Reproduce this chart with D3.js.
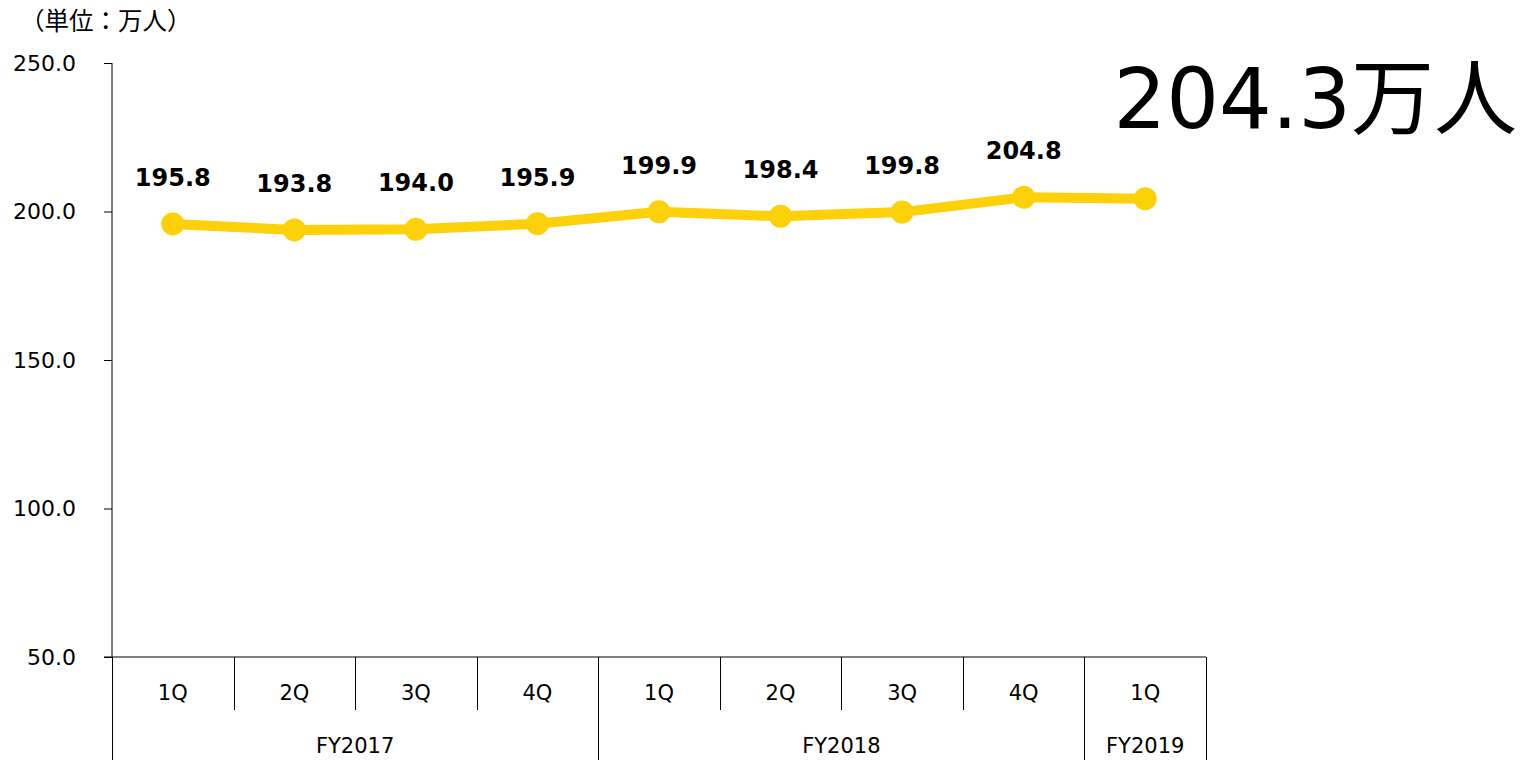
<!DOCTYPE html>
<html>
<head>
<meta charset="utf-8">
<script src="https://cdn.jsdelivr.net/npm/d3@7"></script>
<style>
  body { margin: 0; background: #fff; }
  text { font-family: "DejaVu Sans", Verdana, "Noto Sans CJK JP", sans-serif; fill: #000; }
</style>
</head>
<body>
<div id="chart"></div>
<script>
// data
var quarters = ["1Q", "2Q", "3Q", "4Q", "1Q", "2Q", "3Q", "4Q", "1Q"];
var years = ["FY2017", "FY2018", "FY2019"];
var quartersPerYear = [4, 4, 1];
var values = [195.8, 193.8, 194.0, 195.9, 199.9, 198.4, 199.8, 204.8, 204.3];
var yTicks = [50, 100, 150, 200, 250];
var unitLabel = "（単位：万人）";
var headline = "204.3万人";

var W = 1529, H = 760;
var plotLeft = 112, plotRight = 1206, plotTop = 63, plotBottom = 657;
var lineColor = "#fdd10a";

var svg = d3.select("#chart").append("svg")
    .attr("width", W)
    .attr("height", H);

var idx = d3.range(values.length);
var x = d3.scaleBand().domain(idx).range([plotLeft, plotRight]);
var y = d3.scaleLinear().domain([50, 250]).range([plotBottom, plotTop]);

// y axis
var yAxis = d3.axisLeft(y)
    .tickValues(yTicks)
    .tickFormat(d3.format(".1f"))
    .tickSize(8)
    .tickPadding(28);
var gy = svg.append("g")
    .attr("transform", "translate(" + plotLeft + ",0)")
    .call(yAxis);
gy.select(".domain").attr("d", "M0," + plotTop + "V" + plotBottom).attr("stroke", "#000");
gy.selectAll(".tick line").attr("stroke", "#000");
gy.selectAll(".tick text")
    .style("font-size", "22px")
    .style("font-family", "'DejaVu Sans', Verdana, sans-serif")
    .attr("fill", "#000");

// x axis line
svg.append("line")
    .attr("x1", plotLeft - 8).attr("x2", plotRight)
    .attr("y1", plotBottom).attr("y2", plotBottom)
    .attr("stroke", "#000").attr("stroke-width", 1.2);

// quarter separators and labels
var yearStarts = [];
var acc = 0;
quartersPerYear.forEach(function(n) { yearStarts.push(acc); acc += n; });

idx.concat([values.length]).forEach(function(i) {
  var xp = i < values.length ? x(i) : x(values.length - 1) + x.bandwidth();
  var isYear = yearStarts.indexOf(i) >= 0 || i === values.length;
  svg.append("line")
      .attr("x1", Math.round(xp) + 0.5).attr("x2", Math.round(xp) + 0.5)
      .attr("y1", plotBottom).attr("y2", isYear ? H : 710)
      .attr("stroke", "#000").attr("stroke-width", 1);
});

svg.selectAll("text.qlabel")
    .data(quarters)
    .enter()
    .append("text")
    .attr("class", "qlabel")
    .attr("x", function(d, i) { return x(i) + x.bandwidth() / 2; })
    .attr("y", 700)
    .attr("text-anchor", "middle")
    .style("font-size", "21px")
    .text(function(d) { return d; });

svg.selectAll("text.ylabel")
    .data(years)
    .enter()
    .append("text")
    .attr("class", "ylabel")
    .attr("x", function(d, i) {
      var s = yearStarts[i], e = s + quartersPerYear[i] - 1;
      return (x(s) + x(e) + x.bandwidth()) / 2;
    })
    .attr("y", 753)
    .attr("text-anchor", "middle")
    .style("font-size", "21px")
    .text(function(d) { return d; });

// line + points
var line = d3.line()
    .x(function(d, i) { return x(i) + x.bandwidth() / 2; })
    .y(function(d) { return y(d); });

svg.append("path")
    .datum(values)
    .attr("fill", "none")
    .attr("stroke", lineColor)
    .attr("stroke-width", 10)
    .attr("d", line);

svg.selectAll("circle")
    .data(values)
    .enter()
    .append("circle")
    .attr("cx", function(d, i) { return x(i) + x.bandwidth() / 2; })
    .attr("cy", function(d) { return y(d); })
    .attr("r", 11.5)
    .attr("fill", lineColor);

// value labels (all but the latest quarter)
svg.selectAll("text.vlabel")
    .data(values.slice(0, values.length - 1))
    .enter()
    .append("text")
    .attr("class", "vlabel")
    .attr("x", function(d, i) { return x(i) + x.bandwidth() / 2; })
    .attr("y", function(d) { return y(d) - 38; })
    .attr("text-anchor", "middle")
    .style("font-size", "24px")
    .style("font-weight", "bold")
    .text(function(d) { return d3.format(".1f")(d); });

// unit label
svg.append("text")
    .attr("x", 20)
    .attr("y", 30)
    .style("font-size", "24.5px")
    .style("font-family", "'Noto Sans CJK JP', sans-serif")
    .attr("fill", "#333")
    .text(unitLabel);

// headline
svg.append("text")
    .attr("x", 1517)
    .attr("y", 128)
    .attr("text-anchor", "end")
    .style("font-size", "83px")
    .text(headline);
</script>
</body>
</html>
